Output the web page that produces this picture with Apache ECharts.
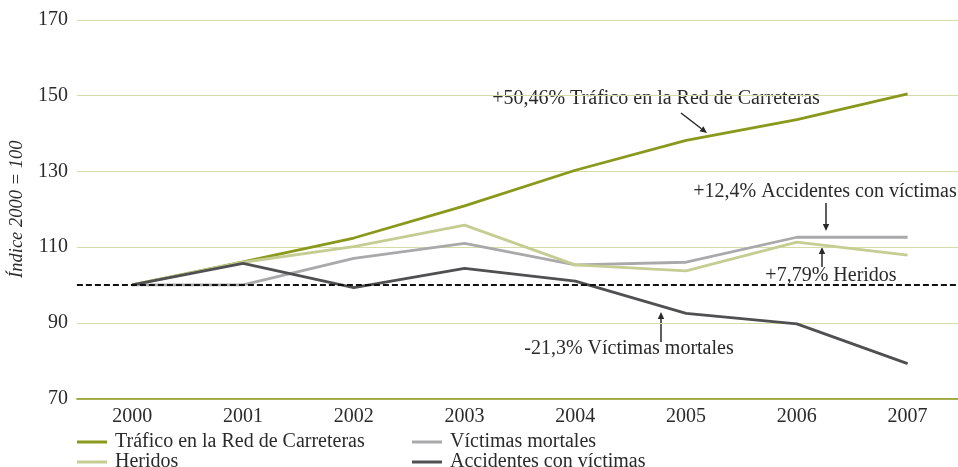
<!DOCTYPE html>
<html lang="es">
<head>
    <meta charset="UTF-8">
    <title>Índice 2000 = 100</title>
    <script src="https://cdn.jsdelivr.net/npm/echarts@6/dist/echarts.min.js"></script>
    <style>
        html, body { margin: 0; padding: 0; background: #fff; overflow: hidden; }
        #main { width: 963px; height: 467px; }
    </style>
</head>
<body>
    <div id="main"></div>
    <script type="text/javascript">
        // datos (índice 2000 = 100)
        var years = ['2000', '2001', '2002', '2003', '2004', '2005', '2006', '2007'];
        var trafico = [100, 106.1, 112.4, 120.9, 130.3, 138.2, 143.7, 150.46];
        var victimas = [100, 100, 107, 111, 105.3, 106, 112.6, 112.6];
        var heridos = [100, 106, 110.1, 115.8, 105.3, 103.7, 111.3, 107.9];
        var accidentes = [100, 105.7, 99.3, 104.4, 101, 92.5, 89.7, 79.2];
        var yTicks = [70, 90, 110, 130, 150, 170];

        var FONT = '"Liberation Serif", "DejaVu Serif", serif';
        var INK = '#2a2a2a';

        var myChart = echarts.init(document.getElementById('main'));

        function arrow(x1, y1, x2, y2) {
            var a = Math.atan2(y2 - y1, x2 - x1), L = 7, W = 3.2;
            var bx = x2 - L * Math.cos(a), by = y2 - L * Math.sin(a);
            var px = -Math.sin(a) * W, py = Math.cos(a) * W;
            return {
                type: 'group',
                children: [
                    { type: 'line', shape: { x1: x1, y1: y1, x2: bx, y2: by },
                      style: { stroke: INK, lineWidth: 1.5 } },
                    { type: 'polygon', shape: { points: [[x2, y2], [bx + px, by + py], [bx - px, by - py]] },
                      style: { fill: INK } }
                ]
            };
        }
        function note(txt, cx, cy) {
            return { type: 'text', x: cx, y: cy,
                style: { text: txt, fill: INK, font: '20px ' + FONT, align: 'center', verticalAlign: 'middle' } };
        }

        function serie(name, data, color) {
            return {
                name: name, type: 'line', data: data, yAxisIndex: 1,
                symbol: 'none', smooth: false,
                lineStyle: { color: color, width: 2.8 },
                itemStyle: { color: color },
                z: 3
            };
        }

        var series = [
            serie('Tráfico en la Red de Carreteras', trafico, '#8a981c'),
            serie('Víctimas mortales', victimas, '#a9a9ab'),
            serie('Heridos', heridos, '#c6cd93'),
            serie('Accidentes con víctimas', accidentes, '#505052')
        ];
        series[0].markLine = {
            silent: true, symbol: 'none', label: { show: false },
            lineStyle: { color: '#111', type: [6, 3], width: 2 },
            data: [{ yAxis: 100 }], z: 5
        };

        var legendBase = {
            orient: 'vertical', top: 432, height: 50, padding: 0, itemGap: 0,
            icon: 'rect', itemWidth: 30, itemHeight: 3,
            textStyle: { fontFamily: FONT, fontSize: 20, color: INK, lineHeight: 19, padding: [0, 0, 0, 3] }
        };

        option = {
            animation: false,
            backgroundColor: '#fff',
            grid: { left: 75, right: 0, top: 20, bottom: 68.5 },
            legend: [
                Object.assign({ left: 77, data: ['Tráfico en la Red de Carreteras', 'Heridos'] }, legendBase),
                Object.assign({ left: 412, data: ['Víctimas mortales', 'Accidentes con víctimas'] }, legendBase)
            ],
            xAxis: {
                type: 'category', data: years, boundaryGap: true,
                axisLine: { lineStyle: { color: '#8a981c', width: 1.5 } },
                axisTick: { show: false },
                axisLabel: { fontFamily: FONT, fontSize: 20, color: INK, margin: 8 }
            },
            yAxis: [
                {   // eje visible: marcas desde 70 cada 20
                    type: 'value', min: 0, max: yTicks[yTicks.length - 1] - yTicks[0], interval: 20,
                    name: 'Índice 2000 = 100', nameLocation: 'middle', nameGap: 45,
                    nameTextStyle: { fontFamily: FONT, fontSize: 18.5, fontStyle: 'italic', color: INK },
                    axisLine: { show: false }, axisTick: { show: false },
                    axisLabel: { fontFamily: FONT, fontSize: 20, color: INK, margin: 9,
                        formatter: function (v) { return String(v + yTicks[0]); } },
                    splitLine: { lineStyle: { color: '#d6dca8', width: 1.2 } }
                },
                {   // eje de datos
                    type: 'value', min: yTicks[0], max: yTicks[yTicks.length - 1],
                    show: false, splitLine: { show: false }
                }
            ],
            series: series,
            graphic: [
                note('+50,46% Tráfico en la Red de Carreteras', 656, 99),
                arrow(681, 113, 707, 133),
                note('+12,4% Accidentes con víctimas', 825, 192),
                arrow(826, 203, 826, 231),
                note('+7,79% Heridos', 831, 276),
                arrow(822, 267, 822, 247),
                note('-21,3% Víctimas mortales', 629, 349),
                arrow(661, 342, 661, 312)
            ]
        };

        myChart.setOption(option);
    </script>
</body>
</html>
